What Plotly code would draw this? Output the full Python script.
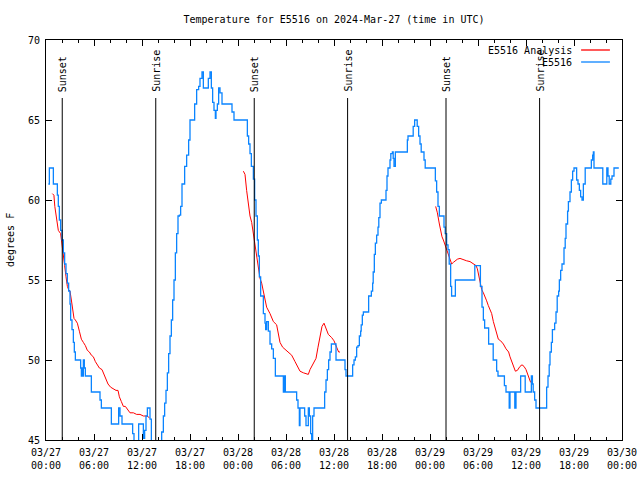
import plotly.graph_objects as go

# ---- data (hours since 2024-03-27 00:00 UTC, degrees F) ----
obs_hours = [0.29, 0.42, 0.8, 0.92, 1.25, 1.42, 1.54, 1.67, 1.83, 2.0, 2.17, 2.33, 2.5, 2.67, 2.83, 3.0, 3.08, 3.25,
             3.42, 3.54, 3.67, 4.17, 4.33, 4.42, 4.5, 4.58, 4.67, 4.79, 4.92, 5.58, 5.67, 6.67, 6.75, 6.92, 8.08, 8.17,
             8.92, 9.08, 9.25, 9.5, 10.71, 10.83, 11.0, 11.58, 12.0, 12.17, 12.33, 12.5, 12.67, 12.92, 13.0, 13.17,
             13.3, 14.3, 14.46, 14.67, 14.83, 15.0, 15.17, 15.33, 15.5, 15.67, 15.83, 16.0, 16.17, 16.33, 16.5, 16.67,
             16.83, 17.0, 17.25, 17.33, 17.58, 17.83, 18.0, 18.42, 18.58, 18.83, 19.08, 19.25, 19.5, 19.67, 20.08,
             20.29, 20.5, 20.67, 20.83, 21.0, 21.17, 21.25, 21.42, 21.58, 21.75, 22.0, 23.08, 23.25, 23.5, 25.0, 25.17,
             25.33, 25.5, 25.67, 25.92, 26.08, 26.25, 26.42, 26.54, 26.67, 26.83, 27.08, 27.17, 27.375, 27.46, 27.58,
             27.79, 28.0, 28.21, 28.42, 28.67, 29.58, 29.67, 29.79, 29.92, 31.17, 31.33, 31.5, 31.67, 31.75, 32.17,
             32.33, 32.5, 32.67, 32.79, 32.92, 33.08, 33.21, 33.33, 33.5, 34.67, 34.83, 35.0, 35.17, 35.33, 35.5,
             35.67, 36.08, 36.25, 37.17, 37.375, 37.5, 38.17, 38.33, 38.5, 38.67, 38.83, 39.0, 39.17, 39.33, 39.4,
             39.54, 39.67, 40.17, 40.33, 40.5, 40.67, 40.83, 40.9, 41.04, 41.17, 41.33, 41.5, 41.6, 41.75, 41.92,
             42.42, 42.5, 42.625, 42.75, 42.92, 43.0, 43.1, 43.3, 43.4, 43.5, 43.67, 45.0, 45.17, 45.25, 45.75, 45.9,
             46.08, 46.3, 46.4, 46.58, 46.75, 46.9, 47.1, 47.25, 47.4, 48.5, 48.67, 48.83, 49.0, 49.17, 49.58, 49.75,
             49.9, 50.08, 50.25, 50.4, 50.58, 50.7, 50.9, 51.17, 53.4, 53.6, 54.2, 54.3, 54.5, 54.67, 54.83, 55.2,
             55.33, 55.75, 55.9, 56.17, 56.33, 56.5, 57.17, 57.3, 57.5, 57.8, 57.9, 58.0, 58.4, 58.6, 58.75, 59.2,
             59.33, 59.75, 59.9, 60.5, 60.67, 60.8, 60.9, 61.08, 61.25, 62.4, 62.58, 62.75, 62.9, 63.0, 63.17, 63.3,
             63.58, 63.75, 63.9, 64.08, 64.17, 64.33, 64.5, 64.75, 64.9, 65.0, 65.2, 65.3, 65.5, 65.67, 65.83, 66.0,
             66.17, 66.33, 66.5, 66.67, 66.83, 67.0, 67.17, 67.4, 68.08, 68.17, 68.33, 68.42, 68.5, 69.5, 69.6, 70.0,
             70.1, 70.25, 70.4, 70.6, 70.75, 71.0, 71.6]
obs_temps = [61, 62, 62, 61, 61, 60.3, 59.6, 58.75, 58.1, 57.5, 56.7, 56.0, 55.4, 54.8, 54.3, 53.5, 52.5, 51.9,
             51.1, 50.5, 50, 50, 49.5, 49.0, 49.5, 49, 50, 49.5, 49, 49, 48, 48, 47.5, 47, 47, 46,
             46, 47, 46.5, 46, 46, 45.4, 44.8, 46, 46, 45.1, 45.6, 46.5, 47, 47, 46.3, 44.5,
             44, 44, 45.5, 46.5, 47.3, 48.1, 49.2, 50.4, 51.5, 52.5, 53.75, 55, 56.7, 57.9, 59, 59.06,
             59.6, 61, 61, 62.1, 62.8, 63.75, 65, 65, 66, 66.9, 67.1, 67.6, 68, 67, 67,
             67.6, 68, 67, 66.1, 65.6, 65.1, 65.6, 66, 67, 66.7, 66, 66, 65.5, 65, 65, 64,
             63.5, 62.9, 62.1, 61.3, 60, 59, 57.5, 56.5, 55.2, 54, 54, 52.9, 52.3, 51.9, 52.4,
             51.8, 51.0, 50.7, 50.1, 49, 49, 48, 49, 48, 48, 47.5, 47, 45.9, 47, 47,
             46.5, 45.9, 45.9, 47, 46.5, 45.4, 44.8, 46.5, 47, 47, 48, 48.75, 49.4, 50, 50.5,
             51, 51, 50, 50, 49.4, 49, 49, 49.7, 50, 50.2, 50.8, 50.9, 51.5, 51.8, 52.2,
             52.8, 53, 53, 54, 54, 54.3, 54.8, 55.5, 56.6, 57.3, 57.8, 58.3, 58.9, 59.8, 60,
             60, 60.6, 61.5, 62, 62, 62.5, 62.9, 63, 62.6, 62.1, 63, 63, 63.75, 64, 64, 64.6,
             65, 65, 64.6, 64, 63.5, 63, 63, 62.5, 62, 62, 61.2, 60.5, 59.6, 59, 59, 58.3,
             57.9, 57.2, 56.9, 56, 54.6, 54, 54, 55, 55, 55.9, 55.9, 54.6, 53.3, 52.5, 52, 52,
             51, 51, 50, 50, 49.3, 49, 49, 48.4, 48, 48, 47, 48, 48, 47, 48, 48,
             49, 49, 48, 48, 49, 48.5, 48, 47.5, 47, 47, 48.3, 49, 49.7, 50.5, 51.1, 51.9,
             52.3, 53, 54, 54.3, 55, 55.6, 56, 57, 57.6, 58.5, 59.3, 59.9, 60.5, 61.25, 61.8, 62,
             62, 61.25, 61, 60.6, 60.2, 60, 61, 62, 62, 62.5, 62.8, 63, 62, 62, 61, 61,
             62, 61.5, 61, 61.3, 61.5, 62, 62]

ana_hours = [0.79, 0.99, 1.1, 1.33, 1.54, 1.83, 2.0, 2.17, 2.33, 2.5, 2.67, 2.83, 3.0, 3.17, 3.33, 3.5, 3.67, 3.92,
             4.17, 4.42, 4.67, 4.92, 5.17, 5.42, 5.67, 5.92, 6.17, 6.42, 6.67, 7.0, 7.25, 7.5, 7.75, 8.08, 8.42, 8.75,
             9.0, 9.17, 9.42, 9.67, 9.92, 10.17, 10.5, 10.92, 11.33, 11.75, 12.17, 12.58, 12.92, None,
             24.67, 24.875, 25.08, 25.29, 25.5, 25.71, 25.92, 26.125, 26.33, 26.54, 26.75, 26.96, 27.17, 27.375,
             27.58, 28.0, 28.42, 28.83, 29.04, 29.25, 29.58, 30.08, 30.71, 31.125, 31.54, 31.75, 32.17, 32.58, 32.79,
             33.0, 33.33, 33.75, 34.0, 34.25, 34.5, 34.75, 35.0, 35.29, 35.71, 36.0, 36.33, 36.58, 36.75, None,
             48.71, 48.92, 49.17, 49.33, 49.5, 49.67, 49.875, 50.08, 50.29, 50.5, 50.71, 50.92, 51.17, 51.42, 51.75,
             52.17, 52.58, 53.0, 53.42, 53.75, 53.92, 54.08, 54.25, 54.46, 54.67, 54.875, 55.08, 55.29, 55.5, 55.71,
             55.92, 56.125, 56.33, 56.54, 56.83, 57.17, 57.5, 57.83, 58.0, 58.21, 58.42, 58.67, 58.92, 59.25, 59.5,
             59.75, 60.0, 60.17, 60.33, 60.58]
ana_temps = [60.4, 60.3, 59.6, 58.75, 58.1, 57.9, 57.3, 56.6, 55.9, 55.2, 54.6, 54.4, 54.3, 53.75, 53.1, 52.6, 52.5,
             52.3, 51.8, 51.3, 51.1, 50.9, 50.6, 50.5, 50.3, 50.2, 49.9, 49.7, 49.5, 49.4, 49.1, 48.7, 48.5, 48.3,
             48.2, 48.1, 48.1, 47.7, 47.4, 47.1, 47.1, 46.9, 46.7, 46.7, 46.6, 46.6, 46.5, 46.5, 46.4, None,
             61.8, 61.6, 60.6, 59.7, 59.0, 58.6, 57.9, 57.1, 56.5, 55.6, 55.1, 54.8, 54.2, 53.7,
             53.3, 52.9, 52.4, 52.2, 51.7, 51.1, 50.8, 50.6, 50.3, 49.9, 49.5, 49.3, 49.2, 49.1, 49.1,
             49.4, 49.7, 50.1, 50.8, 51.5, 52.1, 52.3, 52.0, 51.6, 51.4, 51.2, 50.8, 50.5, 50.5, None,
             59.6, 59.2, 58.5, 58.1, 57.7, 57.5, 57.2, 56.9, 56.5, 56.3, 56.0, 56.1, 56.2, 56.3, 56.35,
             56.25, 56.2, 56.15, 56.0, 55.9, 55.7, 55.3, 54.8, 54.4, 54.2, 54.0, 53.7, 53.4, 53.1, 52.9,
             52.4, 52.0, 51.7, 51.3, 51.2, 51.0, 50.7, 50.5, 50.2, 49.9, 49.6, 49.3, 49.35, 49.6, 49.7,
             49.6, 49.4, 49.2, 48.9, 48.6]

sun_hours = [2.03, 13.72, 26.03, 37.7, 50.0, 61.7]
sun_labels = ["Sunset", "Sunrise", "Sunset", "Sunrise", "Sunset", "Sunrise"]

tick_hours = [0, 6, 12, 18, 24, 30, 36, 42, 48, 54, 60, 66, 72]
tick_labels = ["03/27<br>00:00", "03/27<br>06:00", "03/27<br>12:00", "03/27<br>18:00",
               "03/28<br>00:00", "03/28<br>06:00", "03/28<br>12:00", "03/28<br>18:00",
               "03/29<br>00:00", "03/29<br>06:00", "03/29<br>12:00", "03/29<br>18:00",
               "03/30<br>00:00"]

series_names = ["E5516 Analysis", "E5516"]
series_colors = ["#ff0000", "#0a84ff"]

FONT = "DejaVu Sans Mono"

fig = go.Figure()
fig.add_trace(go.Scatter(x=ana_hours, y=ana_temps, mode="lines", name=series_names[0],
                         line=dict(color=series_colors[0], width=1), connectgaps=False, showlegend=False))
fig.add_trace(go.Scatter(x=obs_hours, y=obs_temps, mode="lines", name=series_names[1],
                         line=dict(color=series_colors[1], width=1.3, shape="hv"), showlegend=False))

shapes = []
annotations = []
for h, lab in zip(sun_hours, sun_labels):
    shapes.append(dict(type="line", xref="x", yref="paper", x0=h, x1=h, y0=0, y1=0.855,
                       line=dict(color="black", width=1)))
    annotations.append(dict(x=h, y=0.865, xref="x", yref="paper", text=lab, showarrow=False,
                            textangle=-90, xanchor="center", yanchor="bottom",
                            font=dict(family=FONT, size=10, color="black")))

# legend (gnuplot style: text then sample on the right)
leg_y = [0.975, 0.945]
for name, col, yy in zip(series_names, series_colors, leg_y):
    annotations.append(dict(x=0.917, y=yy, xref="paper", yref="paper", text=name, showarrow=False,
                            xanchor="right", yanchor="middle",
                            font=dict(family=FONT, size=10, color="black")))
    shapes.append(dict(type="line", xref="paper", yref="paper", x0=0.929, x1=0.979, y0=yy, y1=yy,
                       line=dict(color=col, width=1.3)))

annotations.append(dict(x=-0.0625, y=0.5, xref="paper", yref="paper", text="degrees F", showarrow=False,
                        textangle=-90, xanchor="center", yanchor="middle",
                        font=dict(family=FONT, size=10, color="black")))

fig.update_layout(
    width=640, height=480, autosize=False,
    margin=dict(l=46, r=18, t=40, b=40, autoexpand=False),
    paper_bgcolor="white", plot_bgcolor="white",
    showlegend=False,
    font=dict(family=FONT, size=10, color="black"),
    title=dict(text="Temperature for E5516 on 2024-Mar-27 (time in UTC)", x=0.5, xref="paper",
               y=1 - 19 / 480, yanchor="middle", font=dict(family=FONT, size=10, color="black")),
    shapes=shapes, annotations=annotations,
)
fig.update_xaxes(range=[0, 72], tickvals=tick_hours, ticktext=tick_labels, ticks="inside", ticklen=6,
                 tickcolor="black", showline=True, linecolor="black", linewidth=1, mirror="ticks",
                 showgrid=False, zeroline=False, automargin=False, ticklabelstandoff=3,
                 minor=dict(dtick=2, tick0=0, ticks="inside", ticklen=3, tickcolor="black", showgrid=False),
                 tickfont=dict(family=FONT, size=10, color="black"))
fig.update_yaxes(range=[45, 70], dtick=5, ticks="inside", ticklen=6, tickcolor="black", showline=True,
                 linecolor="black", linewidth=1, mirror="ticks", showgrid=False, zeroline=False,
                 automargin=False, ticklabelstandoff=3,
                 tickfont=dict(family=FONT, size=10, color="black"))

fig.write_html("out.html", config={"displayModeBar": False, "responsive": False},
               post_script="document.body.style.margin='0';document.body.style.overflow='hidden';")
